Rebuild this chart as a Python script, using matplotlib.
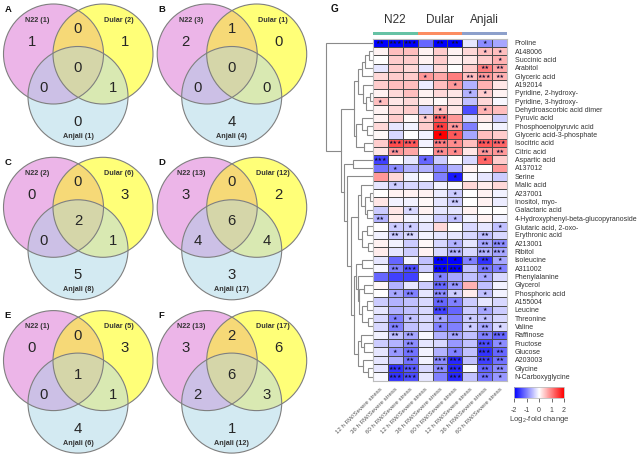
#!/usr/bin/env python3
import numpy as np
import matplotlib
matplotlib.use("Agg")
import matplotlib.pyplot as plt
from matplotlib.colors import LinearSegmentedColormap
from matplotlib.patches import Circle, Polygon, Rectangle

plt.rcParams['font.family'] = ['Liberation Sans', 'DejaVu Sans']
plt.rcParams['axes.unicode_minus'] = False
plt.rcParams['mathtext.fontset'] = 'custom'
plt.rcParams['mathtext.rm'] = 'Liberation Sans'

W, H = 642, 457

# --- VENN DATA ---
panel_letters = ["A", "B", "C", "D", "E", "F"]
totals_n22 = [1, 3, 2, 13, 1, 13]
totals_dular = [2, 1, 6, 12, 5, 17]
totals_anjali = [1, 4, 8, 17, 6, 12]
only_n22 = [1, 2, 0, 3, 0, 3]
only_dular = [1, 0, 3, 2, 3, 6]
only_anjali = [0, 4, 5, 3, 4, 1]
n22_dular = [0, 1, 0, 0, 0, 2]
n22_anjali = [0, 0, 0, 4, 0, 2]
dular_anjali = [1, 0, 1, 4, 1, 3]
all_three = [0, 0, 2, 6, 1, 6]

# --- HEATMAP DATA ---
metabolites = [
    "Proline", "A148006", "Succinic acid", "Arabitol", "Glyceric acid", "A192014",
    "Pyridine, 2-hydroxy-", "Pyridine, 3-hydroxy-", "Dehydroascorbic acid dimer",
    "Pyruvic acid", "Phosphoenolpyruvic acid", "Glyceric acid-3-phosphate",
    "Isocitric acid", "Citric acid", "Aspartic acid", "A137012", "Serine", "Malic acid",
    "A237001", "Inositol, myo-", "Galactaric acid", "4-Hydroxyphenyl-beta-glucopyranoside",
    "Glutaric acid, 2-oxo-", "Erythronic acid", "A213001", "Ribitol", "Isoleucine",
    "A311002", "Phenylalanine", "Glycerol", "Phosphoric acid", "A155004", "Leucine",
    "Threonine", "Valine", "Raffinose", "Fructose", "Glucose", "A203003", "Glycine",
    "N-Carboxyglycine",
]
cultivars = ["N22", "Dular", "Anjali"]
cultivar_colors = ["#66c2a5", "#fc8d62", "#8da0cb"]
time_labels = ["12 h RW/Severe stress", "36 h RW/Severe stress", "60 h RW/Severe stress"] * 3

log2fc = np.array([
    [-2, -2, -2, -1.2, -2, -2, -.2, -.9, -.7],
    [.1, .5, .5, .1, .4, .1, .3, .5, .5],
    [0, .4, .4, .1, .4, .1, .2, .4, .6],
    [-.2, .4, .3, -.2, .3, 0, .4, 1, .7],
    [.3, .4, .4, .8, .7, 1, .5, .8, .6],
    [.4, .5, .5, -.15, .5, .8, -.6, .6, .2],
    [.1, .3, .5, .1, .3, .2, -.6, .4, .1],
    [.5, .2, .3, .1, .05, .2, -.5, .3, -.05],
    [.1, .3, .4, -.4, .5, .2, -1.4, .6, .5],
    [.1, .4, .05, .4, 1.3, .8, -.3, .2, -.4],
    [.3, -.2, -.1, .4, 1.5, .8, -1, .05, -.1],
    [.05, -.3, 0, -.1, 2, 1.3, -.7, .5, .4],
    [.4, 1.4, 1.3, -.1, 1, .9, .5, 1.3, 1.2],
    [.2, .8, .7, 0, .9, .9, .2, .8, .8],
    [-1.5, 0, -.2, -1.2, -.4, 0, -.3, 1.2, .4],
    [-1.1, -.9, -.6, -.6, -1, -.6, .1, 0, .8],
    [.8, .3, -.1, 0, -1, -1.8, -.05, -.2, -.4],
    [-.2, -.4, -.3, -.3, -.1, -.05, .3, .15, .3],
    [0, .1, .1, .1, -.15, -.4, 0, .1, -.1],
    [.2, -.1, -.1, .05, -.2, -.4, 0, .1, -.15],
    [-.4, .2, -.3, .1, -.2, -.2, .1, 0, 0],
    [-.6, .15, -.1, -.1, -.4, -.5, -.1, .1, -.1],
    [0, -.4, -.4, -.2, .3, 0, -.3, -.2, -.5],
    [-.1, -.4, -.3, -.1, -.2, -.2, -.3, -.5, -.3],
    [.1, -.1, -.4, .05, -.3, -.6, -.2, -.7, -.9],
    [.15, -.2, -.4, .1, -.3, -.6, -.3, -.6, -.7],
    [-.2, -1.2, -.1, -.5, -2, -2, -1, -1.6, -.7],
    [-.05, -1, -1.4, -.4, -2, -2, -.5, -1.1, -1],
    [-1.2, -1.5, -1.5, 0, -1, -.7, -.5, -.7, -.3],
    [.05, -.6, -.2, -.4, -1.2, -.8, .6, -.5, -.1],
    [0, -.7, -1, -.2, -.9, -.4, .15, -.5, -.1],
    [-.4, -.6, -.5, -.3, -1.2, -1, -.4, -.2, -.3],
    [-.2, -.6, -.5, -.3, -1.5, -1.2, -.4, -.7, -.4],
    [-.3, -1, -.5, -.3, -.7, -1, -.4, -.5, -.3],
    [-.3, -1, -.5, -.3, -1, -1, -.4, -.7, -.3],
    [-.1, -.5, -.7, -.05, -.6, -.7, -.5, -1, -1.2],
    [-.4, -.6, -.9, -.2, -.3, -.8, -.5, -1.4, -.9],
    [-.2, -.8, -1.1, -.1, -.6, -1, -.5, -1.6, -1.2],
    [-.2, -.6, -1.1, -.1, -.9, -1.7, -.5, -1.5, -1.1],
    [-.2, -1.6, -1.3, -.3, -.9, -1.7, -.05, -1.2, -.9],
    [-.05, -1.6, -1.4, -.2, -1, -1.7, -.5, -1.1, -.8],
])

stars = np.array([
    [2, 3, 3, 0, 2, 2, 0, 1, 0],
    [0, 0, 0, 0, 0, 0, 0, 1, 1],
    [0, 0, 0, 0, 0, 0, 0, 0, 1],
    [0, 0, 0, 0, 0, 0, 0, 2, 2],
    [0, 0, 0, 1, 0, 0, 2, 3, 2],
    [0, 0, 0, 0, 0, 1, 0, 0, 0],
    [0, 0, 0, 0, 0, 0, 1, 1, 0],
    [1, 0, 0, 0, 0, 0, 0, 0, 0],
    [0, 0, 0, 0, 1, 0, 0, 1, 0],
    [0, 0, 0, 1, 3, 0, 0, 0, 0],
    [0, 0, 0, 0, 2, 2, 0, 0, 0],
    [0, 0, 0, 0, 1, 1, 0, 0, 0],
    [0, 3, 3, 0, 3, 1, 0, 3, 3],
    [0, 2, 0, 0, 2, 1, 0, 2, 2],
    [3, 0, 0, 1, 0, 0, 0, 1, 0],
    [0, 1, 0, 0, 0, 0, 0, 0, 0],
    [0, 0, 0, 0, 0, 1, 0, 0, 0],
    [0, 1, 0, 0, 0, 0, 0, 0, 0],
    [0, 0, 0, 0, 0, 1, 0, 0, 0],
    [0, 0, 0, 0, 0, 2, 0, 0, 0],
    [0, 0, 1, 0, 0, 0, 0, 0, 0],
    [2, 0, 0, 0, 0, 1, 0, 0, 0],
    [0, 1, 1, 0, 0, 0, 0, 0, 1],
    [0, 2, 2, 0, 0, 0, 0, 2, 0],
    [0, 0, 0, 0, 0, 1, 0, 2, 3],
    [0, 0, 0, 0, 0, 3, 0, 3, 3],
    [0, 0, 0, 0, 2, 1, 1, 2, 1],
    [0, 2, 3, 0, 3, 3, 0, 2, 1],
    [0, 0, 0, 0, 1, 0, 0, 1, 0],
    [0, 0, 0, 0, 3, 2, 0, 0, 0],
    [0, 1, 2, 0, 3, 1, 0, 1, 0],
    [0, 0, 0, 0, 2, 1, 0, 0, 0],
    [0, 0, 0, 0, 3, 0, 0, 1, 0],
    [0, 1, 1, 0, 1, 0, 1, 1, 0],
    [0, 2, 0, 0, 1, 0, 1, 2, 1],
    [0, 2, 2, 0, 0, 2, 0, 2, 3],
    [0, 0, 2, 0, 0, 0, 0, 3, 1],
    [0, 1, 2, 0, 0, 1, 0, 3, 2],
    [0, 0, 2, 0, 3, 3, 0, 3, 2],
    [0, 3, 3, 0, 2, 3, 0, 2, 2],
    [0, 3, 3, 0, 0, 3, 0, 2, 1],
])

# dendrogram: (height, child, child), leaves are row numbers
tree_upper = (19,
              (15, (11, (8, (4, 1, 2), 3), 4), (10, 5, (7, (3, 6, 7), 8))),
              (17, (11, 9, (6, 10, 11)), (9, 12, 13)))
tree_middle = (15, (12, 17, (8, (3, 18, 19), (6, 20, 21))), (11, (6, 22, 23), (5, 24, 25)))
tree_lower = (19,
              (17, (11, 26, 27), (15, 28, (14, (9, 29, 30), (11, (6, 31, 32), (5, 33, 34))))),
              (15, (12, 35, (9, 36, 37)), (10, 38, (5, 39, 40))))
tree_root = (46.7, 0, (32, tree_upper, (29, (20, 14, 15), (26, 16, (22, tree_middle, tree_lower)))))


def lens_points(c1, c2, r):
    # contorno de la interseccion de dos circulos iguales
    t = np.linspace(0, 2 * np.pi, 720)
    p1 = np.column_stack([c1[0] + r * np.cos(t), c1[1] + r * np.sin(t)])
    p2 = np.column_stack([c2[0] + r * np.cos(t), c2[1] + r * np.sin(t)])
    pts = np.vstack([p1[np.hypot(*(p1 - c2).T) <= r], p2[np.hypot(*(p2 - c1).T) <= r]])
    mid = (np.array(c1) + np.array(c2)) / 2
    return pts[np.argsort(np.arctan2(pts[:, 1] - mid[1], pts[:, 0] - mid[0]))]


def draw_venn(ax, i, x0, y0):
    r = 50
    cn, cd, ca = (x0 + 53.5, y0 + 54), (x0 + 103, y0 + 54), (x0 + 78, y0 + 96.5)
    circles = {}
    for key, c, col in [("n", cn, "#ecb5e8"), ("d", cd, "#ffff78"), ("a", ca, "#d3eaf2")]:
        circles[key] = Circle(c, r, fc=col, ec="none", zorder=1)
        ax.add_patch(circles[key])
    # solapes de dos, recortados con el otro circulo
    for c, other, col in [(cn, "d", "#f6d977"), (cn, "a", "#ccc0e6"), (cd, "a", "#d9e9b2")]:
        p = Circle(c, r, fc=col, ec="none", zorder=2)
        ax.add_patch(p)
        p.set_clip_path(circles[other])
    triple = Polygon(lens_points(cn, cd, r), fc="#d5d6a9", ec="none", zorder=3)
    ax.add_patch(triple)
    triple.set_clip_path(circles["a"])
    for c in (cn, cd, ca):
        ax.add_patch(Circle(c, r, fc="none", ec="#7f7f7f", lw=0.8, zorder=4))

    counts = [(31.7, 41.7, only_n22), (125, 41.7, only_dular), (78, 29, n22_dular),
              (44, 88, n22_anjali), (78, 68, all_three), (112.7, 88, dular_anjali),
              (78, 122, only_anjali)]
    for dx, dy, vals in counts:
        ax.text(x0 + dx, y0 + dy, str(vals[i]), fontsize=10.7, color="#262626",
                ha="center", va="center", zorder=5)
    for dx, dy, name, vals in [(37, 20, "N22", totals_n22), (119, 20, "Dular", totals_dular),
                               (78, 136.5, "Anjali", totals_anjali)]:
        ax.text(x0 + dx, y0 + dy, f"{name} ({vals[i]})", fontsize=5.2, fontweight="bold",
                color="#333333", ha="center", va="center", zorder=5)
    ax.text(x0 + 8, y0 + 9, panel_letters[i], fontsize=6.8, fontweight="bold",
            color="#111111", ha="center", va="center", zorder=5)


def draw_tree(ax, node):
    # devuelve (altura, fila) del nodo para enlazarlo con su padre
    if not isinstance(node, tuple):
        return 0, node + 0.5
    height, left, right = node
    h1, y1 = draw_tree(ax, left)
    h2, y2 = draw_tree(ax, right)
    ax.plot([h1, height, height, h2], [y1, y1, y2, y2], color="#8a8a8a", lw=0.8,
            solid_joinstyle="miter")
    return height, (y1 + y2) / 2


fig = plt.figure(figsize=(W / 100, H / 100), dpi=100)

# lienzo en pixeles para los diagramas de Venn
canvas = fig.add_axes([0, 0, 1, 1])
canvas.set_xlim(0, W)
canvas.set_ylim(H, 0)
canvas.axis("off")
for i in range(6):
    draw_venn(canvas, i, (i % 2) * 153.7, (i // 2) * 153.3)
canvas.text(334.5, 9, "G", fontsize=7.2, fontweight="bold", color="#111111", ha="center", va="center")

# heatmap
left, right, top, bottom = 372.7, 507.3, 38.7, 380.7
ax = fig.add_axes([left / W, 1 - bottom / H, (right - left) / W, (bottom - top) / H])
cmap = LinearSegmentedColormap.from_list("bwr2", ["#0000ff", "#ffffff", "#ff0000"])
mesh = ax.pcolormesh(log2fc, cmap=cmap, vmin=-2, vmax=2, edgecolors="#4a4a4a", linewidth=0.5)
ax.set_ylim(len(metabolites), 0)
ax.set_xticks(np.arange(9) + 0.5)
ax.set_xticklabels(time_labels, rotation=45, ha="right", va="top", rotation_mode="anchor",
                   fontsize=4.4, color="#555555")
ax.set_yticks(np.arange(len(metabolites)) + 0.5)
ax.set_yticklabels(metabolites, fontsize=5, color="#333333")
ax.yaxis.tick_right()
ax.tick_params(axis="y", length=0, pad=5.2)
ax.tick_params(axis="x", length=0, pad=4)
for s in ax.spines.values():
    s.set_edgecolor("#bdbdbd")
    s.set_linewidth(0.8)

for r in range(stars.shape[0]):
    for c in range(stars.shape[1]):
        if stars[r, c]:
            ax.text(c + 0.5, r + 0.5, "\u2605" * stars[r, c], fontsize=3.6, color="#111133",
                    family="DejaVu Sans", ha="center", va="center")

# cabecera de cultivares
for k, name in enumerate(cultivars):
    ax.add_patch(Rectangle((k * 3, -0.86), 3, 0.42, fc=cultivar_colors[k], ec="none", clip_on=False))
    ax.text(k * 3 + 1.5, -2.2, name, fontsize=8.5, color="#333333", ha="center", va="center")

# dendrograma
den = fig.add_axes([325 / W, 1 - bottom / H, (left - 325) / W, (bottom - top) / H], sharey=ax)
draw_tree(den, tree_root)
den.set_xlim(47.7, 0)
den.axis("off")
ax.set_ylim(len(metabolites), 0)

# escala de color
cax = fig.add_axes([514.3 / W, 1 - 398.3 / H, 49.7 / W, 11.6 / H])
cb = fig.colorbar(mesh, cax=cax, orientation="horizontal", ticks=[-2, -1, 0, 1, 2])
cb.ax.tick_params(length=3, width=0.6, color="#555555", labelsize=5, labelcolor="#444444", pad=3)
cb.outline.set_edgecolor("#bdbdbd")
cb.outline.set_linewidth(0.6)
canvas.text(539, 419.5, r"Log$_{\mathrm{2}}$-fold change", fontsize=5.6, color="#444444",
            ha="center", va="center")

plt.savefig("out.png", dpi=100)
plt.close()
